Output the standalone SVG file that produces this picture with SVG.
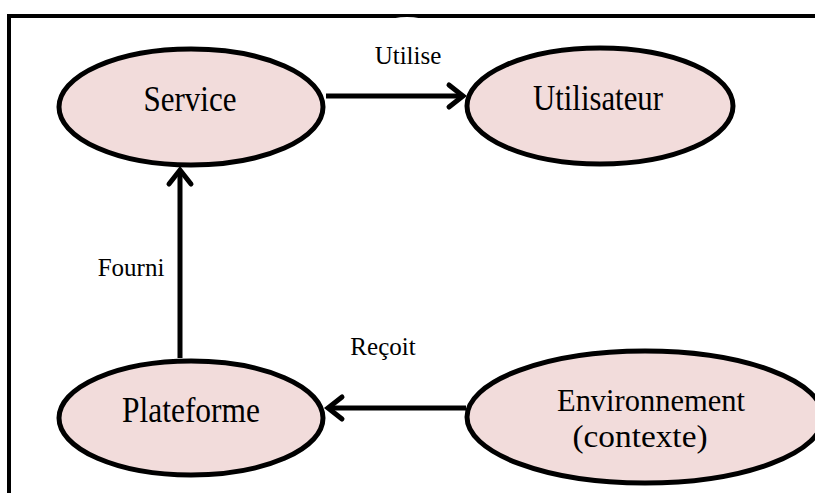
<svg xmlns="http://www.w3.org/2000/svg" width="815" height="493" viewBox="0 0 815 493">
<style>
.node ellipse{fill:#f2dcdb;stroke:#000;stroke-width:5}
text{font-family:'Liberation Serif','DejaVu Serif',serif;fill:#000;text-anchor:middle}
.nt{font-size:36px}
.nt2{font-size:32px}
.lbl{font-size:25px}
.conn{stroke:#000;stroke-width:5;fill:none}
</style>
<defs>
<marker id="arr" markerUnits="userSpaceOnUse" markerWidth="30" markerHeight="30" viewBox="-20 -15 30 30" refX="0" refY="0" orient="auto" overflow="visible">
<path d="M-14,-11 L0,0 L-14,11" fill="none" stroke="#000" stroke-width="5" stroke-linecap="round" stroke-linejoin="miter"/>
</marker>
</defs>
<rect width="815" height="493" fill="#fff"/>
<g id="frame">
<path d="M9,493 L9,16 L815,16" fill="none" stroke="#000" stroke-width="4"/>
<ellipse cx="407" cy="34" rx="34" ry="17" fill="#fff"/>
</g>
<g id="connectors">
<line class="conn" x1="326" y1="96" x2="463" y2="96" marker-end="url(#arr)"/>
<line class="conn" x1="180" y1="358" x2="180" y2="170" marker-end="url(#arr)"/>
<line class="conn" x1="466" y1="408" x2="328" y2="408" marker-end="url(#arr)"/>
<text class="lbl" x="408" y="64">Utilise</text>
<text class="lbl" x="131" y="276">Fourni</text>
<text class="lbl" x="383" y="355">Reçoit</text>
</g>
<g id="service" class="node">
<ellipse cx="191" cy="107" rx="132" ry="58"/>
<text class="nt" x="190" y="111" textLength="93" lengthAdjust="spacingAndGlyphs">Service</text>
</g>
<g id="utilisateur" class="node">
<ellipse cx="600" cy="106" rx="133" ry="58"/>
<text class="nt" x="598" y="110" textLength="130" lengthAdjust="spacingAndGlyphs">Utilisateur</text>
</g>
<g id="plateforme" class="node">
<ellipse cx="191" cy="418" rx="132" ry="57"/>
<text class="nt" x="191" y="422" textLength="138" lengthAdjust="spacingAndGlyphs">Plateforme</text>
</g>
<g id="environnement" class="node">
<ellipse cx="645" cy="417" rx="178" ry="66"/>
<text class="nt2" x="651" y="411" textLength="188" lengthAdjust="spacingAndGlyphs">Environnement</text>
<text class="nt2" x="640" y="447" textLength="135" lengthAdjust="spacingAndGlyphs">(contexte)</text>
</g>
</svg>
